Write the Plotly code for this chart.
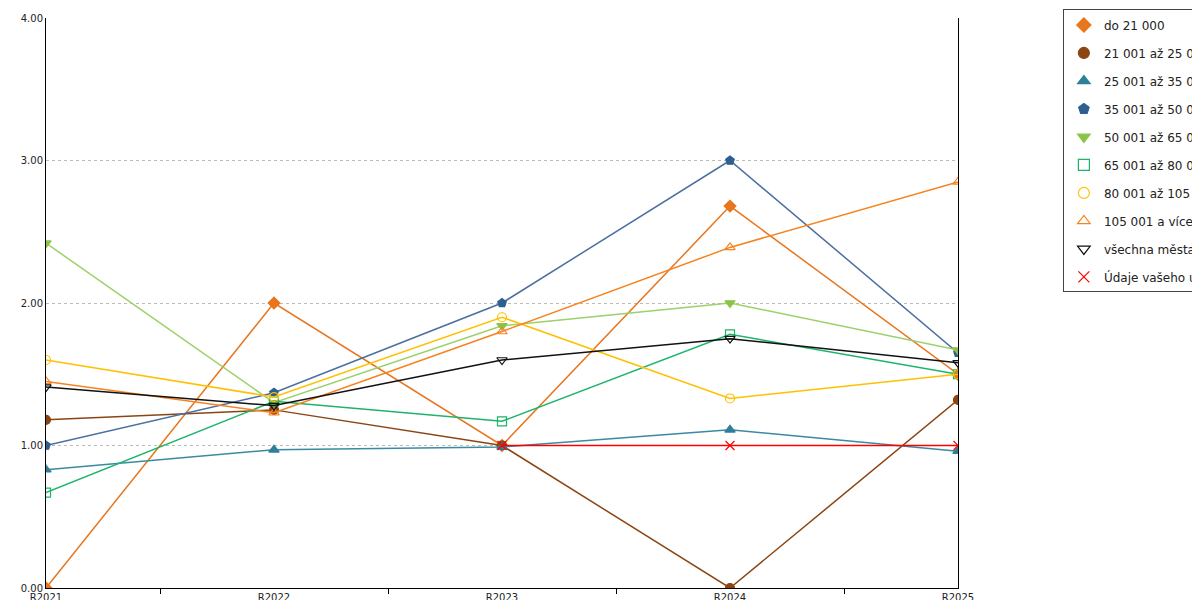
import plotly.graph_objects as go

years = ["R2021", "R2022", "R2023", "R2024", "R2025"]

names = ["do 21 000", "21 001 až 25 000", "25 001 až 35 000", "35 001 až 50 000",
         "50 001 až 65 000", "65 001 až 80 000", "80 001 až 105 000", "105 001 a více",
         "všechna města", "Údaje vašeho úřadu"]

do_21 = [0.0, 2.0, 1.0, 2.68, 1.5]
s_21_25 = [1.18, 1.25, 1.0, 0.0, 1.32]
s_25_35 = [0.83, 0.97, 0.99, 1.11, 0.96]
s_35_50 = [1.0, 1.37, 2.0, 3.0, 1.65]
s_50_65 = [2.42, 1.30, 1.84, 2.0, 1.67]
s_65_80 = [0.67, 1.31, 1.17, 1.78, 1.5]
s_80_105 = [1.6, 1.34, 1.9, 1.33, 1.5]
s_105 = [1.45, 1.23, 1.8, 2.39, 2.85]
vsechna = [1.41, 1.28, 1.6, 1.75, 1.58]
urad = [None, None, 1.0, 1.0, 1.0]

series = [do_21, s_21_25, s_25_35, s_35_50, s_50_65, s_65_80, s_80_105, s_105, vsechna, urad]
line_colors = ["#e8761e", "#8b4513", "#3a8aa0", "#4a6fa0", "#9bd16a", "#1db36a",
               "#ffc000", "#f7821e", "#111111", "#ff0000"]
marker_colors = ["#e8761e", "#8b4513", "#2f7f99", "#2f5f8f", "#8bc34a", "#1db36a",
                 "#ffc000", "#f7821e", "#111111", "#ff0000"]
symbols = ["diamond", "circle", "triangle-up", "pentagon", "triangle-down",
           "square-open", "circle-open", "triangle-up-open", "triangle-down-open", "x-thin-open"]

x = list(range(len(years)))
fig = go.Figure()
for n, s, lc, mc, sym in zip(names, series, line_colors, marker_colors, symbols):
    fig.add_trace(go.Scatter(
        x=x, y=s, name=n, mode="lines+markers", showlegend=False,
        line=dict(color=lc, width=1.5),
        marker=dict(symbol=sym, size=9, color=mc, line=dict(color=mc, width=1.2)),
    ))
# marker-only legend entries
for n, mc, sym in zip(names, marker_colors, symbols):
    fig.add_trace(go.Scatter(
        x=[None], y=[None], name=n, mode="markers",
        marker=dict(symbol=sym, size=11, color=mc, line=dict(color=mc, width=1.2)),
    ))

fig.update_layout(
    width=1200, height=600, plot_bgcolor="white", paper_bgcolor="white",
    margin=dict(l=38, r=250, t=10, b=20, autoexpand=False),
    font=dict(family="DejaVu Sans", size=11, color="#222"),
    legend=dict(x=1.115, y=1.015, xanchor="left", yanchor="top",
                bordercolor="#444", borderwidth=1, tracegroupgap=9,
                font=dict(size=12), itemwidth=30),
    xaxis=dict(range=[0, 4], tickvals=x, ticktext=years, showgrid=False,
               showline=True, linecolor="#000", mirror=False, zeroline=False,
               ticks="", minor=dict(tickvals=[0.5, 1.5, 2.5, 3.5], ticks="outside",
                                    ticklen=5, tickcolor="#000"),
               tickfont=dict(size=10)),
    yaxis=dict(range=[0, 4], tickvals=[0, 1, 2, 3, 4], tickformat=".2f",
               showgrid=True, gridcolor="#bbb", griddash="dot", showline=True,
               linecolor="#000", mirror=True, zeroline=False, tickfont=dict(size=10)),
)
fig.update_layout(legend_traceorder="grouped")
for i, tr in enumerate(fig.data):
    tr.legendgroup = "g%d" % i

fig.write_html("out.html")
